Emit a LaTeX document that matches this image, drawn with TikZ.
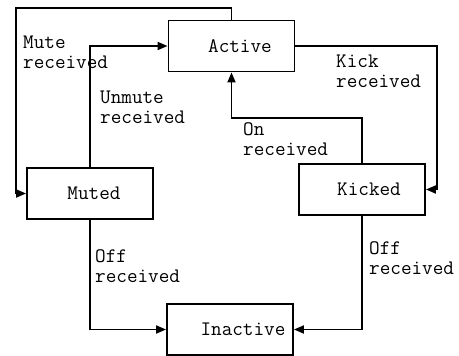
\documentclass[tikz,border=0pt]{standalone}
\usetikzlibrary{arrows.meta}
\begin{document}
\begin{tikzpicture}[x=1pt,y=-1pt,
  state/.style={draw,line width=1.9pt,minimum width=126pt,minimum height=51pt,inner sep=0pt,font=\ttfamily\fontsize{20.6}{20}\selectfont},
  lbl/.style={anchor=base west,align=left,inner sep=0pt,font=\ttfamily\fontsize{20.6}{20}\selectfont},
  conn/.style={line width=1.9pt,-{Triangle[length=10pt,width=8pt]}}]
\useasboundingbox (0,0) rectangle (459,356);
\node[state] (Active) at (231.5,46) {\hspace*{17pt}Active};
\node[state] (Muted) at (90,193.5) {\hspace*{8pt}Muted};
\node[state] (Kicked) at (362,189.5) {\hspace*{14pt}Kicked};
\node[state] (Inactive) at (230,329.5) {\hspace*{26pt}Inactive};
\coordinate (m1) at (16,8);
\coordinate (k1) at (437,100);
\coordinate (o1) at (300,118);
\draw[conn] (Active.north) |- (m1) |- (Muted.west);
\draw[conn] (Muted.north) |- (Active.west);
\draw[conn] (Active.east) -- (Active.east -| k1) -- (Kicked.east -| k1) -- (Kicked.east);
\draw[conn] (Kicked.north) -- (Kicked.north |- o1) -| (Active.south);
\draw[conn] (Muted.south) |- (Inactive.west);
\draw[conn] (Kicked.south) |- (Inactive.east);
\node[lbl] (lmute) at (23,68) {Mute\\received};
\node[lbl] (lunmute) at (100,123) {Unmute\\received};
\node[lbl] (lkick) at (336,87) {Kick\\received};
\node[lbl] (lon) at (243,155) {On\\received};
\node[lbl] (loffl) at (95,282) {Off\\received};
\node[lbl] (loffr) at (369,274) {Off\\received};
\end{tikzpicture}
\end{document}
